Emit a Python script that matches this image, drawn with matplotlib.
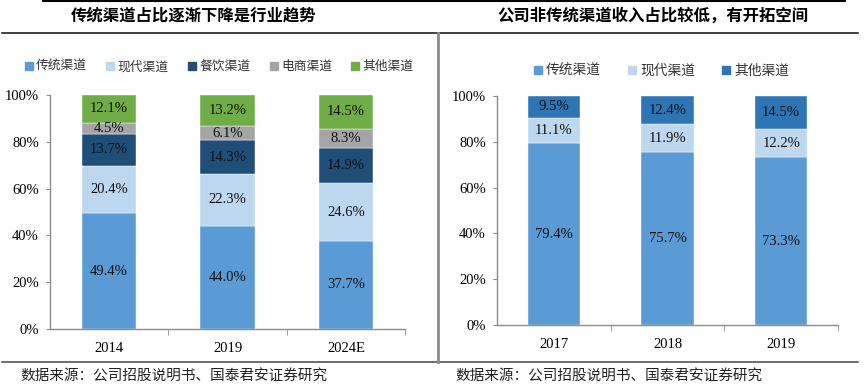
import numpy as np
import matplotlib
matplotlib.use("Agg")
import matplotlib.pyplot as plt
from matplotlib.lines import Line2D
from matplotlib.ticker import FixedLocator

plt.rcParams["font.family"] = ["Liberation Serif", "Noto Sans CJK SC"]

# left panel data
left_years = ["2014", "2019", "2024E"]
left_series = ["传统渠道", "现代渠道", "餐饮渠道", "电商渠道", "其他渠道"]
left_trad = [49.4, 44.0, 37.7]
left_modern = [20.4, 22.3, 24.6]
left_food = [13.7, 14.3, 14.9]
left_ecom = [4.5, 6.1, 8.3]
left_other = [12.1, 13.2, 14.5]
left_colors = ["#5B9BD5", "#BDD7EE", "#1F4E79", "#A5A5A5", "#70AD47"]

# right panel data
right_years = ["2017", "2018", "2019"]
right_series = ["传统渠道", "现代渠道", "其他渠道"]
right_trad = [79.4, 75.7, 73.3]
right_modern = [11.1, 11.9, 12.2]
right_other = [9.5, 12.4, 14.5]
right_colors = ["#5B9BD5", "#BDD7EE", "#2E75B6"]

W, H = 866, 391
fig = plt.figure(figsize=(W / 100, H / 100), dpi=100)


def fx(px):
    return px / W


def fy(py):
    return 1 - py / H


def stacked(ax, years, values, colors):
    x = np.arange(len(years))
    bottom = np.zeros(len(years))
    for vals, c in zip(values, colors):
        vals = np.array(vals)
        ax.bar(x, vals, 0.46, bottom=bottom, color=c, edgecolor="white", linewidth=0.3)
        for xi, b, v in zip(x, bottom, vals):
            ax.text(xi, b + v / 2, f"{v:.1f}%", ha="center", va="center",
                    fontsize=10.5, color="#111111")
        bottom += vals
    ax.set_xlim(-0.5, len(years) - 0.5)
    ax.set_ylim(0, 100)
    ax.set_xticks(x)
    ax.set_xticklabels(years, fontsize=10.5)
    ax.xaxis.set_minor_locator(FixedLocator([0.5, 1.5, 2.5]))
    ax.tick_params(axis="x", which="major", length=0, pad=9)
    ax.tick_params(axis="x", which="minor", length=4, color="#8C8C8C")
    ax.set_yticks(range(0, 101, 20))
    ax.set_yticklabels([f"{v}%" for v in range(0, 101, 20)], fontsize=10.5)
    ax.tick_params(axis="y", length=3, color="#8C8C8C", pad=5)
    for s in ["top", "right"]:
        ax.spines[s].set_visible(False)
    for s in ["left", "bottom"]:
        ax.spines[s].set_color("#8C8C8C")
        ax.spines[s].set_linewidth(1)


def legend(names, colors, cx, cy, size, spacing):
    handles = [Line2D([], [], marker="s", ls="", color=c, ms=5.5) for c in colors]
    fig.legend(handles, names, loc="center", bbox_to_anchor=(fx(cx), fy(cy)),
               ncol=len(names), frameon=False, fontsize=size, handletextpad=0.1,
               columnspacing=spacing, handlelength=1.0, labelcolor="#333333",
               borderpad=0, borderaxespad=0)


ax1 = fig.add_axes([fx(50), fy(329), fx(405 - 50), (329 - 95) / H])
stacked(ax1, left_years, [left_trad, left_modern, left_food, left_ecom, left_other], left_colors)
legend(left_series, left_colors, 218, 67, 9.2, 1.3)

ax2 = fig.add_axes([fx(497), fy(325), fx(838 - 497), (325 - 96) / H])
stacked(ax2, right_years, [right_trad, right_modern, right_other], right_colors)
legend(right_series, right_colors, 660, 71, 9.9, 1.75)

# titles
fig.text(fx(194), fy(16), "传统渠道占比逐渐下降是行业趋势", ha="center", va="center",
         fontsize=11.8, fontweight="bold", family="Noto Sans CJK SC")
fig.text(fx(653), fy(16), "公司非传统渠道收入占比较低，有开拓空间", ha="center", va="center",
         fontsize=11.8, fontweight="bold", family="Noto Sans CJK SC")

# frame lines
fig.add_artist(Line2D([fx(43), fx(845)], [fy(1), fy(1)], color="black", lw=1.5))
fig.add_artist(Line2D([fx(2), fx(858)], [fy(33), fy(33)], color="#222222", lw=1.2))
fig.add_artist(Line2D([fx(2), fx(858)], [fy(362), fy(362)], color="#555555", lw=1.2))
fig.add_artist(Line2D([fx(438), fx(438)], [fy(33), fy(362)], color="#8C8C8C", lw=2))

# source
src = "数据来源：公司招股说明书、国泰君安证券研究"
fig.text(fx(20), fy(377), src, ha="left", va="center", fontsize=10.5,
         family="Noto Sans CJK SC", color="#222222")
fig.text(fx(455), fy(377), src, ha="left", va="center", fontsize=10.5,
         family="Noto Sans CJK SC", color="#222222")

fig.savefig("out.png", dpi=100)
